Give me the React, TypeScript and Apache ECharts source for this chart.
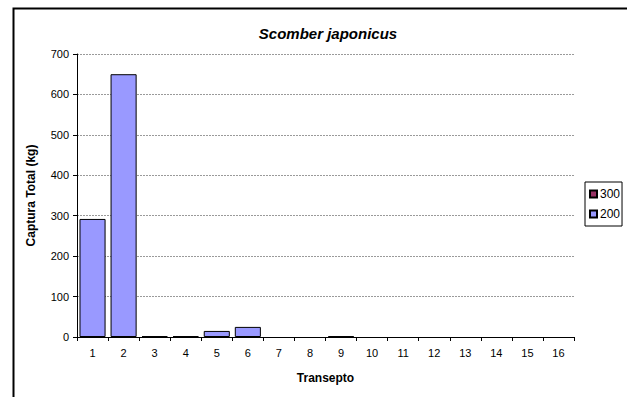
import React, { useEffect, useRef } from "react";
import * as echarts from "echarts";

const categories = ["1", "2", "3", "4", "5", "6", "7", "8", "9", "10", "11", "12", "13", "14", "15", "16"];
const series300: (number | null)[] = [null, null, null, null, null, null, null, null, null, null, null, null, null, null, null, null];
const series200: (number | null)[] = [292, 650, 2, 2, 15, 25, null, null, 2, null, null, null, null, null, null, null];
const yTicks = { min: 0, max: 700, interval: 100 };

const FONT = "'Liberation Sans', Arial, sans-serif";

export default function App() {
  const ref = useRef<HTMLDivElement>(null);
  useEffect(() => {
    if (!ref.current) return;
    const chart = echarts.init(ref.current, null, { renderer: "svg" });
    chart.setOption({
      animation: false,
      backgroundColor: "#ffffff",
      title: {
        text: "Scomber japonicus",
        left: 323,
        textAlign: "center",
        top: 21,
        textStyle: { fontFamily: FONT, fontSize: 15, fontWeight: "bold", fontStyle: "italic", color: "#000" },
      },
      legend: {
        orient: "vertical",
        left: 585,
        top: 182,
        width: 41,
        data: ["300", "200"],
        borderColor: "#000",
        borderWidth: 1,
        padding: [6, 2, 6, 4],
        itemWidth: 7,
        itemHeight: 7,
        itemGap: 8,
        icon: "rect",
        textStyle: { fontFamily: FONT, fontSize: 12, color: "#000", padding: [0, 0, 0, -2] },
      },
      grid: { left: 77, right: 53, top: 54, bottom: 60, containLabel: false },
      xAxis: {
        type: "category",
        data: categories,
        name: "Transepto",
        nameLocation: "middle",
        nameGap: 35,
        nameTextStyle: { fontFamily: FONT, fontSize: 12, fontWeight: "bold", color: "#000" },
        axisLine: { lineStyle: { color: "#000", width: 1 } },
        axisTick: { show: true, length: 4, interval: 0, lineStyle: { color: "#000" } },
        axisLabel: { fontFamily: FONT, fontSize: 11, color: "#000", margin: 10, interval: 0 },
      },
      yAxis: {
        type: "value",
        min: yTicks.min,
        max: yTicks.max,
        interval: yTicks.interval,
        name: "Captura Total (kg)",
        nameLocation: "middle",
        nameGap: 40,
        nameTextStyle: { fontFamily: FONT, fontSize: 12, fontWeight: "bold", color: "#000" },
        axisLine: { show: true, lineStyle: { color: "#000", width: 1 } },
        axisTick: { show: true, length: 4, lineStyle: { color: "#000" } },
        axisLabel: { fontFamily: FONT, fontSize: 11, color: "#000", margin: 8 },
        splitLine: { show: true, lineStyle: { color: "#9a9a9a", width: 1, type: [2, 1] } },
      },
      series: [
        {
          name: "300",
          type: "bar",
          data: series300,
          barGap: "-100%",
          barCategoryGap: "16%",
          itemStyle: { color: "#993366", borderColor: "#000", borderWidth: 1 },
        },
        {
          name: "200",
          type: "bar",
          data: series200,
          barGap: "-100%",
          barCategoryGap: "16%",
          itemStyle: { color: "#9999ff", borderColor: "#000", borderWidth: 1 },
        },
      ],
      graphic: [
        {
          type: "rect",
          left: 11,
          top: 6,
          shape: { x: 0, y: 0, width: 700, height: 500 },
          style: { fill: "none", stroke: "#000", lineWidth: 2 },
          silent: true,
        },
      ],
    });
    return () => chart.dispose();
  }, []);
  return <div ref={ref} style={{ position: "absolute", left: 0, top: 0, width: 627, height: 397 }} />;
}
